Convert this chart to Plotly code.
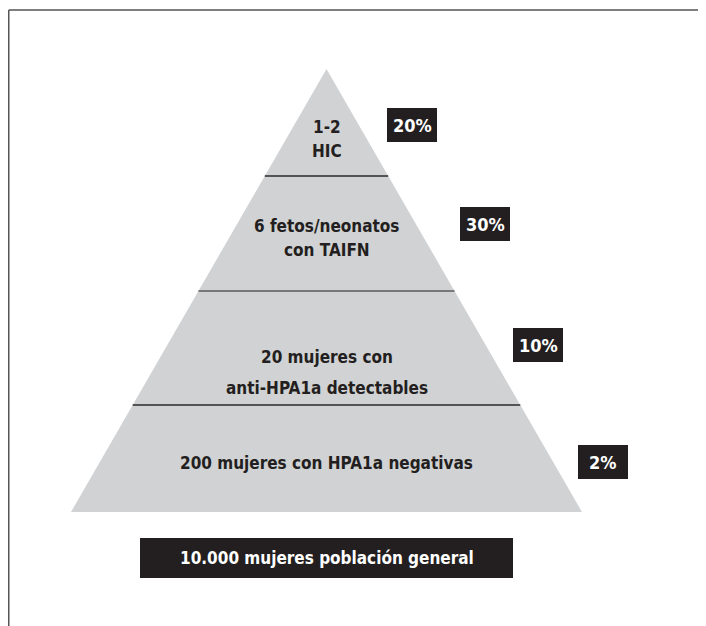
import plotly.graph_objects as go

# ---- data ----
level_labels = [
    "1-2<br>HIC",
    "6 fetos/neonatos<br>con TAIFN",
    "20 mujeres con<br>anti-HPA1a detectables",
    "200 mujeres con HPA1a negativas",
]
level_rates = ["20%", "30%", "10%", "2%"]
base_label = "10.000 mujeres población general"

# ---- layout geometry (screen-pixel axis units) ----
W, H = 706, 626
OFF = 8  # page body margin
apex_x, apex_y = 326.5, 69
base_y, base_half = 512, 255.5
band_edges = [69, 176, 291, 405, 512]
label_line_y = [[127, 151], [226, 250], [357, 388], [463]]
rate_box_centers = [(412, 125), (485, 224), (538, 345), (603, 462)]
rate_box_w, rate_box_h = 50, 34
base_box = (140, 538, 513, 578)

FILL = "#d1d2d4"
DARK = "#231f20"
FONT = "DejaVu Sans Condensed, Liberation Sans Narrow, sans-serif"


def half_width(y):
    return base_half * (y - apex_y) / (base_y - apex_y)


def fnt(size, color):
    return dict(family=FONT, size=size, color=color, weight="bold")


fig = go.Figure()

# pyramid
fig.add_trace(go.Scatter(
    x=[apex_x, apex_x + base_half, apex_x - base_half, apex_x],
    y=[apex_y, base_y, base_y, apex_y],
    fill="toself", fillcolor=FILL, mode="lines",
    line=dict(width=0, color=FILL), hoverinfo="skip", showlegend=False,
))

# dividers
div_colors = ["#2a2a2a", "#5a5a5a", "#2a2a2a"]
for y, c in zip(band_edges[1:-1], div_colors):
    hw = half_width(y)
    fig.add_trace(go.Scatter(
        x=[apex_x - hw, apex_x + hw], y=[y, y], mode="lines",
        line=dict(width=1.6, color=c), hoverinfo="skip", showlegend=False,
    ))

shapes = []
annotations = []

# level labels
for txt, ys in zip(level_labels, label_line_y):
    for line, y in zip(txt.split("<br>"), ys):
        annotations.append(dict(
            x=apex_x, y=y, xref="x", yref="y", text=line, showarrow=False,
            font=fnt(17, DARK), align="center", xanchor="center", yanchor="middle",
        ))

# rate boxes
for txt, (cx, cy) in zip(level_rates, rate_box_centers):
    shapes.append(dict(
        type="rect", xref="x", yref="y",
        x0=cx - rate_box_w / 2, x1=cx + rate_box_w / 2,
        y0=cy - rate_box_h / 2, y1=cy + rate_box_h / 2,
        fillcolor=DARK, line=dict(width=0),
    ))
    annotations.append(dict(
        x=cx, y=cy, xref="x", yref="y", text=txt, showarrow=False,
        font=fnt(18, "white"), xanchor="center", yanchor="middle",
    ))

# base box
x0, y0, x1, y1 = base_box
shapes.append(dict(type="rect", xref="x", yref="y", x0=x0, x1=x1, y0=y0, y1=y1,
                   fillcolor=DARK, line=dict(width=0)))
annotations.append(dict(
    x=(x0 + x1) / 2, y=(y0 + y1) / 2, xref="x", yref="y", text=base_label,
    showarrow=False, font=fnt(17, "white"), xanchor="center", yanchor="middle",
))

# frame lines (top and left)
shapes.append(dict(type="line", xref="x", yref="y", x0=8.75, x1=W, y0=10, y1=10,
                   line=dict(color="#555555", width=1.5)))
shapes.append(dict(type="line", xref="x", yref="y", x0=8.75, x1=8.75, y0=10, y1=H,
                   line=dict(color="#555555", width=1.5)))

fig.update_layout(
    width=W - OFF, height=H - OFF,
    margin=dict(l=0, r=0, t=0, b=0, pad=0),
    paper_bgcolor="white", plot_bgcolor="white",
    xaxis=dict(range=[OFF, W], visible=False, fixedrange=True),
    yaxis=dict(range=[H, OFF], visible=False, fixedrange=True),
    shapes=shapes, annotations=annotations, showlegend=False,
)

fig.write_html("out.html")
